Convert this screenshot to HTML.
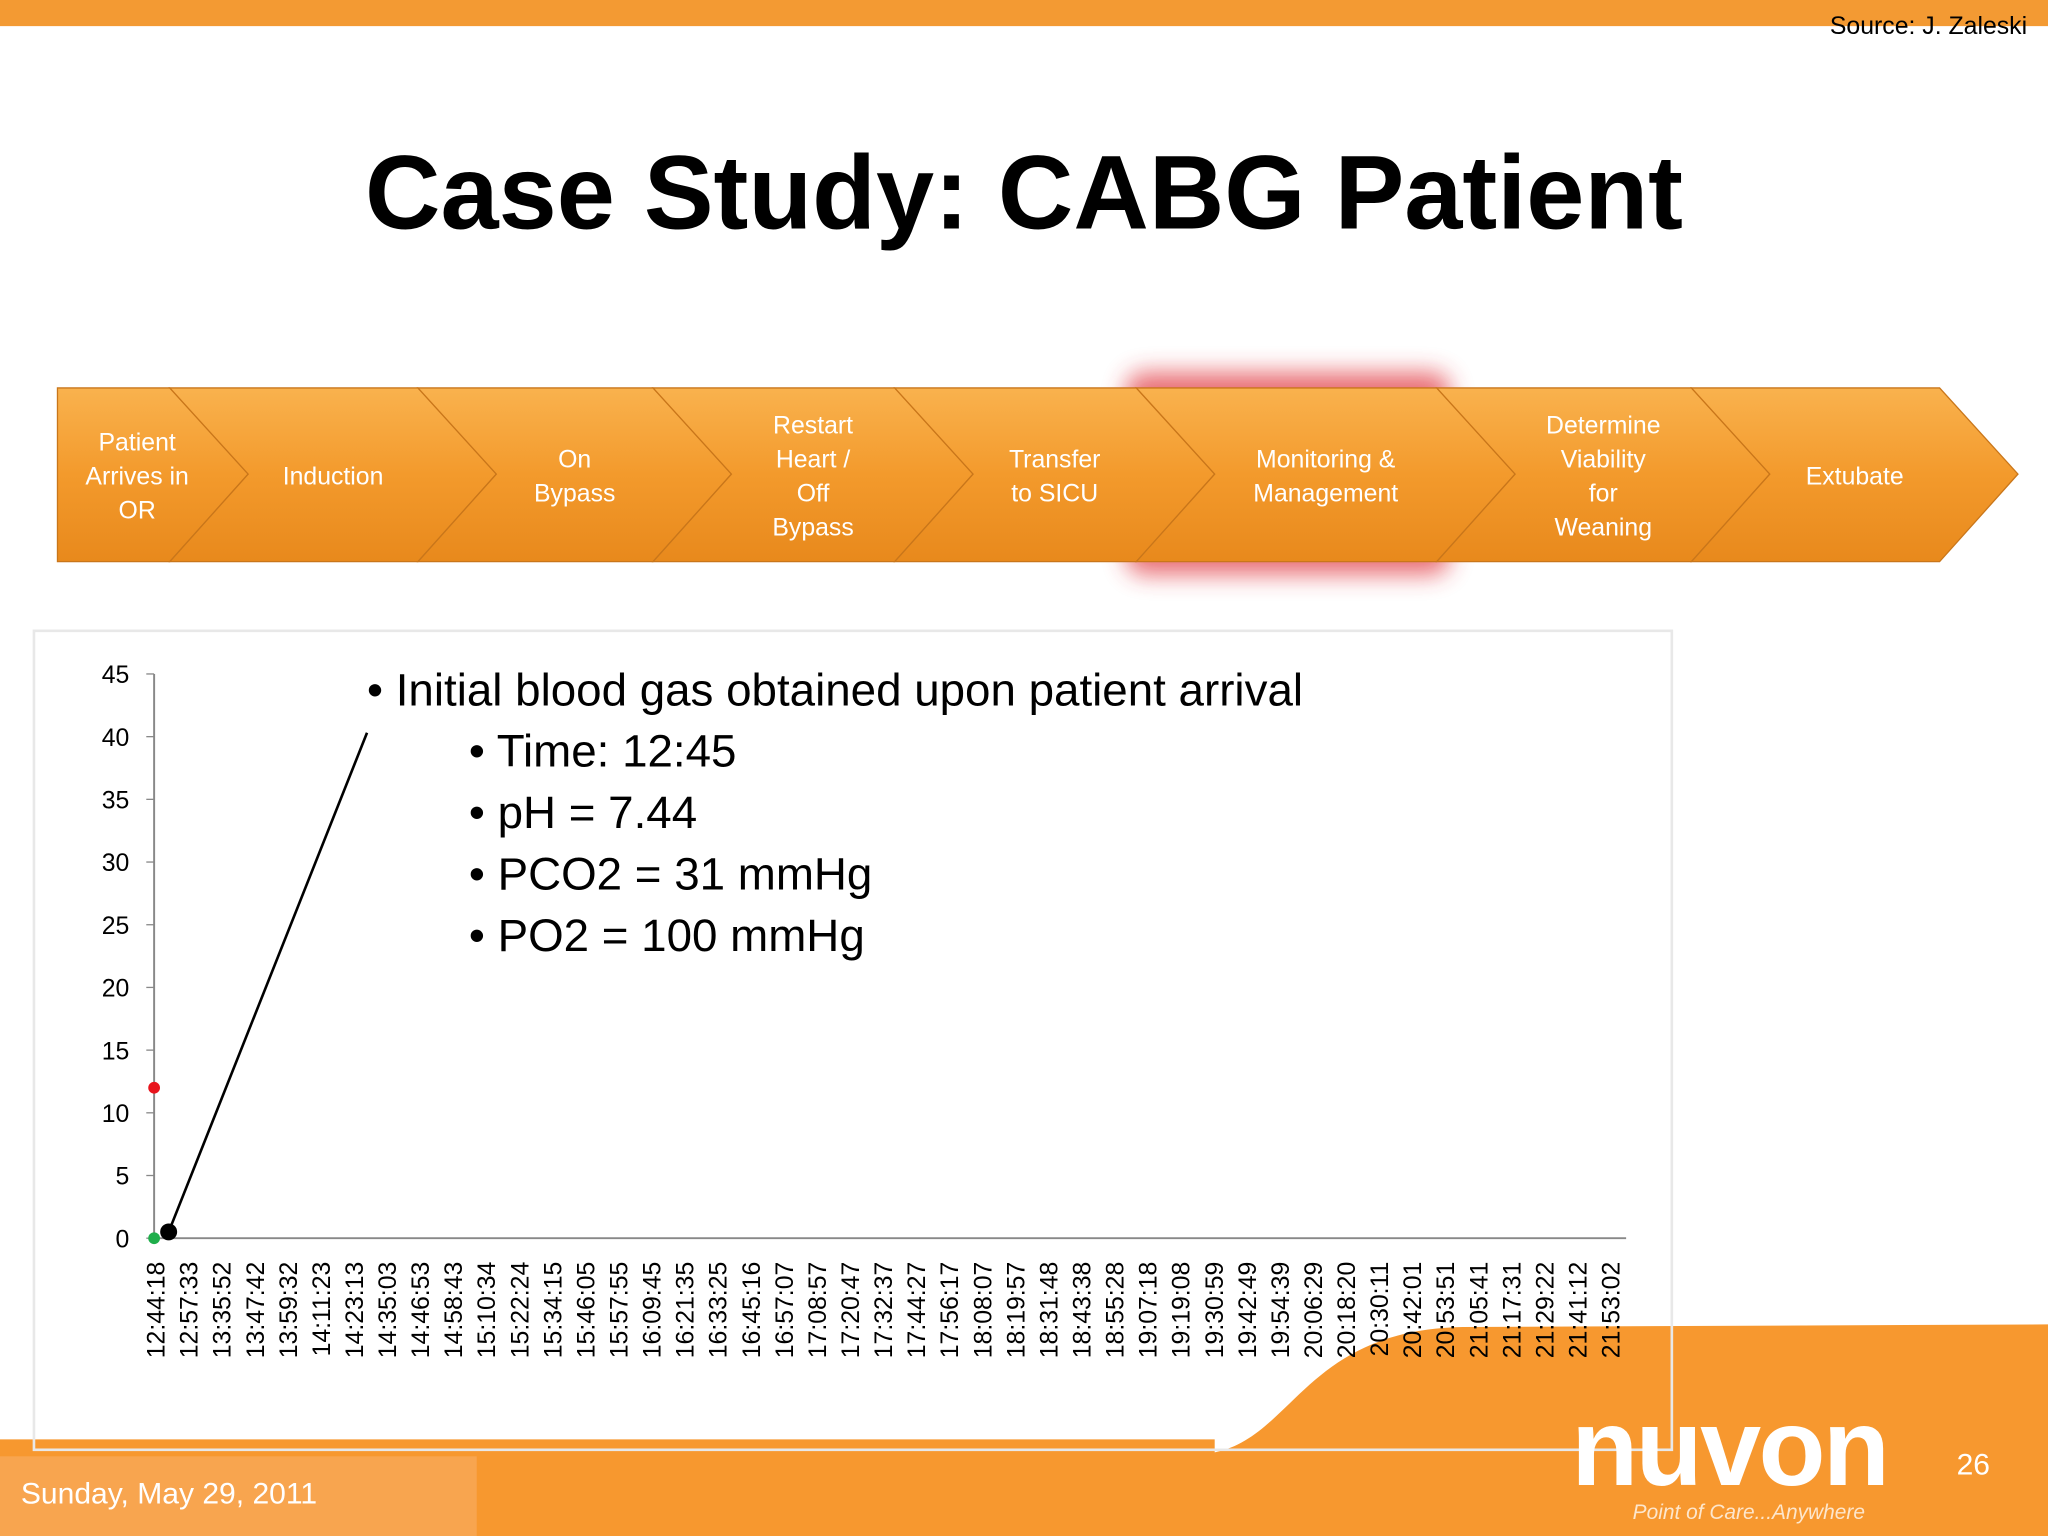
<!DOCTYPE html>
<html><head><meta charset="utf-8"><style>
html,body{margin:0;padding:0;width:2048px;height:1536px;overflow:hidden;background:#fff}
#s{position:absolute;left:0;top:0;width:1568px;height:1176px;transform:scale(1.306122);transform-origin:0 0;font-family:"Liberation Sans",sans-serif}
.t{position:absolute;white-space:nowrap}
</style></head><body>
<div id="s">
<svg width="1568" height="1176" style="position:absolute;left:0;top:0">
<defs>
<linearGradient id="og" x1="0" y1="0" x2="0" y2="1"><stop offset="0" stop-color="#f9b24e"/><stop offset="0.5" stop-color="#f39a2c"/><stop offset="1" stop-color="#e8891c"/></linearGradient>
<filter id="bl" x="-20%" y="-30%" width="140%" height="160%"><feGaussianBlur stdDeviation="9"/></filter>
</defs>
<rect x="0" y="0" width="1568" height="20" fill="#f39a33"/>
<path d="M930,1112 C990,1100 1000,1018 1120,1016 L1568,1014 L1568,1176 L0,1176 L0,1102 L930,1102 Z" fill="#f7982f"/>
<rect x="0" y="1115" width="365" height="61" fill="#f8a54f"/>
<rect x="862" y="285" width="248" height="155" rx="14" fill="#e0303a" opacity="0.7" filter="url(#bl)"/>
<g id="chev"></g>
<rect x="26" y="483" width="1254" height="627" fill="none" stroke="#e8e8e8" stroke-width="2"/>
<g id="chart"></g>
</svg>
<div class="t" style="right:16px;top:10px;font-size:19px">Source: J. Zaleski</div>
<div class="t" style="left:0;width:1568px;text-align:center;top:102px;font-size:80px;font-weight:bold">Case Study: CABG Patient</div>
<div id="labels"></div>
<div class="t" style="left:281px;top:505px;font-size:35px;line-height:47px">
• Initial blood gas obtained upon patient arrival<br>
<span style="margin-left:78px">• Time: 12:45</span><br>
<span style="margin-left:78px">• pH = 7.44</span><br>
<span style="margin-left:78px">• PCO2 = 31 mmHg</span><br>
<span style="margin-left:78px">• PO2 = 100 mmHg</span></div>
<div class="t" style="left:16px;top:1130px;font-size:23px;color:#fff">Sunday, May 29, 2011</div>
<div class="t" style="left:1498px;top:1108px;font-size:23px;color:#fff">26</div>
<div class="t" style="left:1203px;top:1060px;font-size:84px;font-weight:bold;color:#fff;letter-spacing:-2px">nuvon</div>
<div class="t" style="left:1250px;top:1150px;font-size:16px;font-style:italic;color:#fde6cc">Point of Care...Anywhere</div>
</div>
<script>
const NS="http://www.w3.org/2000/svg";
const stepNames=[["Patient","Arrives in","OR"],["Induction"],["On","Bypass"],["Restart","Heart /","Off","Bypass"],["Transfer","to SICU"],["Monitoring &","Management"],["Determine","Viability","for","Weaning"],["Extubate"]];
const tips=[190,380,560,745,930,1160,1355,1545];
const cg=document.getElementById('chev');
let prev=null;
tips.forEach((tp,i)=>{
  const p=document.createElementNS(NS,'polygon');
  let pts;
  if(i===0) pts=`44,297 130,297 ${tp},363 130,430 44,430`;
  else pts=`${prev-60},297 ${tp-60},297 ${tp},363 ${tp-60},430 ${prev-60},430 ${prev},363`;
  p.setAttribute('points',pts);p.setAttribute('fill','url(#og)');p.setAttribute('stroke','#c9761a');p.setAttribute('stroke-width','1');
  
  
  cg.appendChild(p);
  const cx=i===0?105:(i===7?1420:((prev)+(tp-60))/2);
  const d=document.createElement('div');d.className='t';
  d.style.cssText=`left:${cx-80}px;width:160px;text-align:center;color:#fff;font-size:19px;line-height:26px;top:${366-stepNames[i].length*13}px;font-family:"Liberation Sans",sans-serif`;
  d.innerHTML=stepNames[i].join('<br>');
  
  
  document.getElementById('labels').appendChild(d);
  prev=tp;
});
const categories=["12:44:18","12:57:33","13:35:52","13:47:42","13:59:32","14:11:23","14:23:13","14:35:03","14:46:53","14:58:43","15:10:34","15:22:24","15:34:15","15:46:05","15:57:55","16:09:45","16:21:35","16:33:25","16:45:16","16:57:07","17:08:57","17:20:47","17:32:37","17:44:27","17:56:17","18:08:07","18:19:57","18:31:48","18:43:38","18:55:28","19:07:18","19:19:08","19:30:59","19:42:49","19:54:39","20:06:29","20:18:20","20:30:11","20:42:01","20:53:51","21:05:41","21:17:31","21:29:22","21:41:12","21:53:02"];
const yTicks=[0,5,10,15,20,25,30,35,40,45];
const blackSeries=[0.5];
const redSeries=[12];
const greenSeries=[0];
const X0=118,XEND=1245,Y0=948,YTOP=516,STEP=(1233-119)/44;
const xs=i=>X0+1+i*STEP;
const ys=v=>Y0-(v/45)*(Y0-YTOP);
const ch=document.getElementById('chart');
function el(tag,attrs){const e=document.createElementNS(NS,tag);for(const k in attrs)e.setAttribute(k,attrs[k]);ch.appendChild(e);return e;}
let a=el('line',{x1:X0,y1:YTOP,x2:X0,y2:Y0,stroke:'#888','stroke-width':1.5});

a=el('line',{x1:X0,y1:Y0,x2:XEND,y2:Y0,stroke:'#888','stroke-width':1.5});

yTicks.forEach(v=>{
  el('line',{x1:X0-6,y1:ys(v),x2:X0,y2:ys(v),stroke:'#888'});
  const t=el('text',{x:99,y:ys(v)+7,'text-anchor':'end','font-size':19,'font-family':'Liberation Sans, sans-serif'});
  t.textContent=v;
  
  
});
categories.forEach((c,i)=>{
  const x=xs(i)+7;
  const t=el('text',{x:x,y:966,transform:`rotate(-90 ${x} 966)`,'text-anchor':'end','font-size':19,'font-family':'Liberation Sans, sans-serif'});
  t.textContent=c;
  
  
});
let m=el('line',{x1:xs(0.4),y1:ys(blackSeries[0]),x2:281,y2:561,stroke:'#000','stroke-width':2});

redSeries.forEach(v=>{m=el('circle',{cx:X0,cy:ys(v),r:4.5,fill:'#e8141c'});
});
greenSeries.forEach(v=>{m=el('circle',{cx:X0,cy:ys(v),r:4.5,fill:'#1fae4b'});
});
blackSeries.forEach(v=>{m=el('circle',{cx:xs(0.4),cy:ys(v),r:6.5,fill:'#000'});
});
</script>
</body></html>
